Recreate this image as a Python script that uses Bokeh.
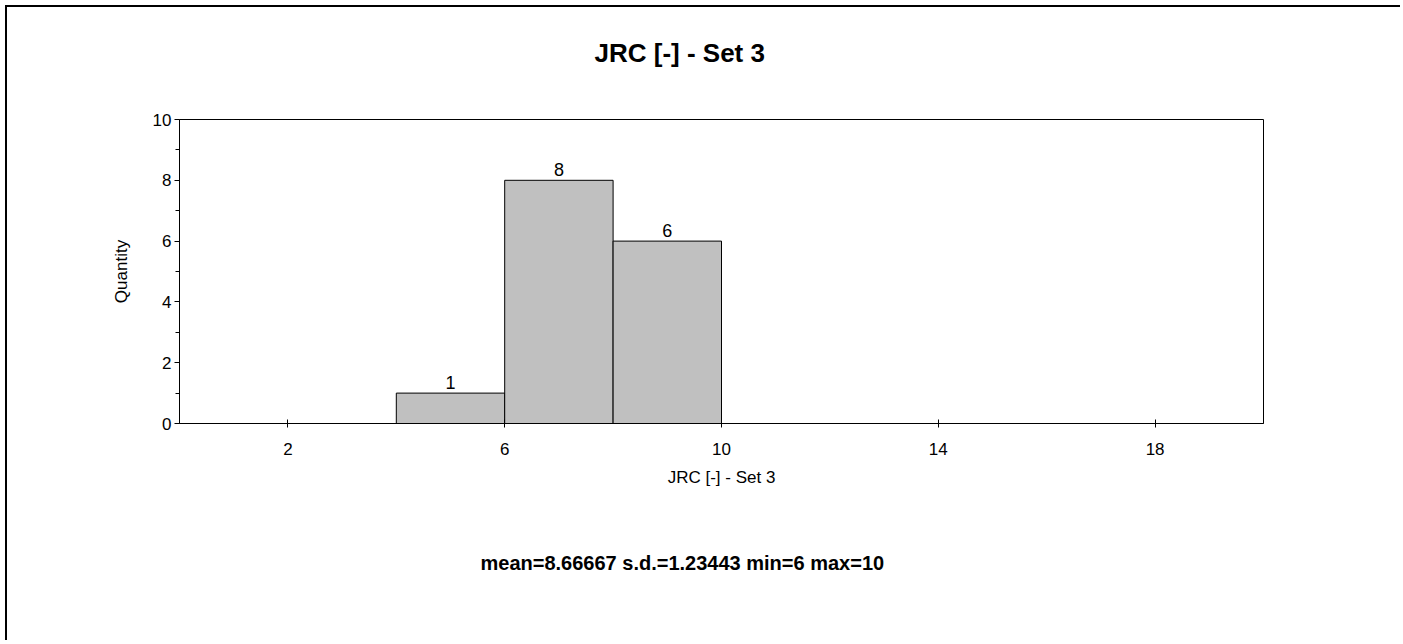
from bokeh.plotting import figure
from bokeh.models import ColumnDataSource, FixedTicker, LabelSet, Range1d, Title
from bokeh.core.properties import value
from bokeh.embed import file_html
from bokeh.resources import INLINE

# ---- data ----
bin_left = [0, 2, 4, 6, 8, 10, 12, 14, 16, 18]
bin_width = 2
counts = [0, 0, 1, 8, 6, 0, 0, 0, 0, 0]
x_ticks = [2, 6, 10, 14, 18]
y_ticks = [0, 2, 4, 6, 8, 10]
y_minor = [1, 3, 5, 7, 9]
chart_title = "JRC [-] - Set 3"
x_title = "JRC [-] - Set 3"
y_title = "Quantity"
stats_text = "mean=8.66667 s.d.=1.23443 min=6 max=10"

FONT = "Liberation Sans"

lefts = [l for l, c in zip(bin_left, counts) if c > 0]
rights = [l + bin_width for l, c in zip(bin_left, counts) if c > 0]
tops = [c for c in counts if c > 0]
src = ColumnDataSource(dict(left=lefts, right=rights, top=tops,
                            bottom=[0] * len(tops),
                            xc=[(a + b) / 2 for a, b in zip(lefts, rights)],
                            lab=[str(t) for t in tops]))

p = figure(width=1400, height=640, output_backend="svg", toolbar_location=None,
           x_range=Range1d(0, 20), y_range=Range1d(0, 10), title_location=None,
           min_border_left=179, min_border_right=137,
           min_border_top=119, min_border_bottom=217)
p.styles = {"box-shadow": "inset 5px 5px 0 0 white, inset 7px 7px 0 0 black"}
p.background_fill_color = "white"
p.border_fill_color = None
p.outline_line_color = "black"
p.outline_line_width = 1
p.grid.visible = False

p.quad(left="left", right="right", top="top", bottom="bottom", source=src,
       fill_color="#C0C0C0", line_color="black", line_width=1)

p.add_layout(LabelSet(x="xc", y="top", text="lab", source=src, y_offset=4,
                      text_align="center", text_baseline="bottom",
                      text_font=value(FONT), text_font_size="18px",
                      text_color="black"))

# x axis
xa = p.xaxis[0]
xa.ticker = FixedTicker(ticks=x_ticks, minor_ticks=[])
xa.major_tick_in = 4
xa.major_tick_out = 4
xa.minor_tick_line_color = None
xa.major_label_standoff = 15
xa.axis_label = x_title
xa.axis_label_standoff = 10

# y axis
ya = p.yaxis[0]
ya.ticker = FixedTicker(ticks=y_ticks, minor_ticks=y_minor)
ya.major_tick_in = 0
ya.major_tick_out = 5
ya.minor_tick_in = 0
ya.minor_tick_out = 4
ya.minor_tick_line_color = "black"
ya.major_label_standoff = 3
ya.axis_label = y_title
ya.axis_label_standoff = 19

for ax in (xa, ya):
    ax.axis_line_color = "black"
    ax.major_tick_line_color = "black"
    ax.major_label_text_font = FONT
    ax.major_label_text_font_size = "17px"
    ax.major_label_text_color = "black"
    ax.axis_label_text_font = FONT
    ax.axis_label_text_font_size = "17px"
    ax.axis_label_text_font_style = "normal"
    ax.axis_label_text_color = "black"

# blank spacer (closest to the frame) then the chart title above it
p.add_layout(Title(text=" ", text_font=FONT, text_font_size="10px",
                   text_color="white", standoff=0), "above")
p.add_layout(Title(text=chart_title, align="left", offset=415, vertical_align="top",
                   standoff=73, text_font=FONT, text_font_size="26px",
                   text_font_style="bold", text_color="black"), "above")

# statistics line below the x axis
p.add_layout(Title(text=stats_text, align="left", offset=301, vertical_align="top",
                   standoff=125, text_font=FONT, text_font_size="20px",
                   text_font_style="bold", text_color="black"), "below")

open("out.html", "w").write(file_html(p, INLINE))
